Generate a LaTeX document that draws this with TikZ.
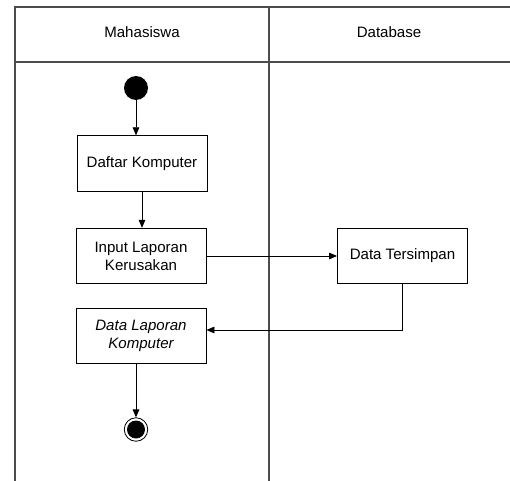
\documentclass[tikz,border=0pt]{standalone}
\usepackage{fontspec}
\setmainfont{Liberation Sans}
\usetikzlibrary{arrows.meta}
\begin{document}
\begin{tikzpicture}[x=0.75pt,y=-0.75pt,
  lane/.style={draw=black!70,line width=0.8pt},
  act/.style={draw=black,line width=0.7pt,fill=white,minimum width=130*0.75pt,minimum height=55.5*0.75pt,align=center,inner sep=1pt,font=\fontsize{11.3}{13.5}\selectfont},
  flow/.style={draw=black,line width=0.6pt,-{Triangle[length=6pt,width=5pt]}},
  lbl/.style={font=\fontsize{11.3}{13.5}\selectfont}]
\useasboundingbox (0,0) rectangle (510,481);
% swimlane frame
\draw[lane] (15,481) -- (15,7) -- (510,7);
\draw[lane] (15,62) -- (510,62);
\draw[lane] (269,7) -- (269,481);
\node[lbl] (h1) at (142,32) {Mahasiswa};
\node[lbl] (h2) at (389,32) {Database};
% nodes
\node[circle,fill=black,minimum size=24*0.75pt,inner sep=0pt] (start) at (136,88) {};
\node[act] (daftar) at (142,163.5) {Daftar Komputer};
\node[act] (input) at (141,256) {Input Laporan\\Kerusakan};
\node[act] (simpan) at (402.5,256) {Data Tersimpan};
\node[act,font=\fontsize{11.3}{13.5}\selectfont\itshape] (lapor) at (141,336) {Data Laporan\\Komputer};
\node[circle,draw=black,line width=0.6pt,minimum size=23.5*0.75pt,inner sep=0pt] (end) at (136,429.5) {};
\node[circle,fill=black,minimum size=18*0.75pt,inner sep=0pt] (endin) at (end) {};
% connectors
\draw[flow] (start) -- (start |- daftar.north);
\draw[flow] (daftar.south) -- (input.north -| daftar.south);
\draw[flow] (input.east) -- (simpan.west);
\draw[flow] (simpan.south) |- (lapor.east |- 0,330);
\draw[flow] (lapor.south -| end) -- (end.north);
\end{tikzpicture}
\end{document}
